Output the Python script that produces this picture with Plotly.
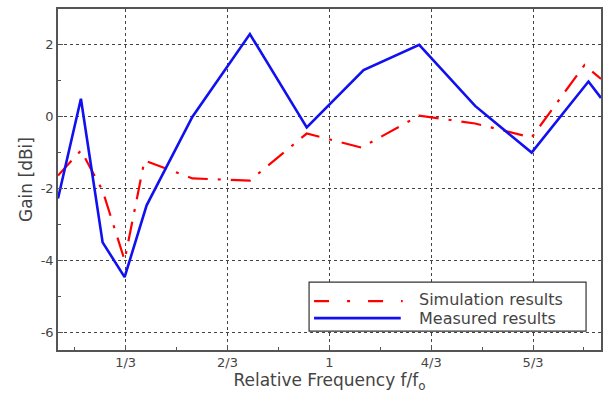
import plotly.graph_objects as go

# ---- data ----
meas_x = [0.112, 0.187, 0.258, 0.330, 0.402, 0.552, 0.740, 0.926, 1.112, 1.294, 1.477, 1.662, 1.848, 1.889]
meas_y = [-2.28, 0.50, -3.50, -4.47, -2.47, 0.00, 2.30, -0.30, 1.30, 2.00, 0.30, -1.00, 0.98, 0.52]

sim_x = [0.112, 0.187, 0.258, 0.330, 0.395, 0.552, 0.740, 0.926, 1.105, 1.294, 1.477, 1.662, 1.835, 1.889]
sim_y = [-1.64, -0.94, -2.06, -4.00, -1.22, -1.72, -1.78, -0.47, -0.86, 0.03, -0.19, -0.58, 1.44, 1.05]

series_names = ["Simulation results", "Measured results"]

x_tickvals = [1/3, 2/3, 1, 4/3, 5/3]
x_ticktext = ["1/3", "2/3", "1", "4/3", "5/3"]
y_tickvals = [2, 0, -2, -4, -6]
y_ticktext = ["2", "0", "-2", "-4", "-6"]

RED = "#ff0000"
BLUE = "#1010f0"
TXT = "#444444"
FONT = "DejaVu Sans, Liberation Sans, Arial, sans-serif"

fig = go.Figure()
fig.add_trace(go.Scatter(x=sim_x, y=sim_y, mode="lines", name=series_names[0],
                         line=dict(color=RED, width=2.2, dash="20px,10px,3px,10px"),
                         showlegend=False))
fig.add_trace(go.Scatter(x=meas_x, y=meas_y, mode="lines", name=series_names[1],
                         line=dict(color=BLUE, width=2.6), showlegend=False))

axis_common = dict(
    showline=True, linecolor="#555555", linewidth=1.5, mirror=True,
    showgrid=True, gridcolor="#444444", griddash="dot", gridwidth=1,
    ticks="inside", ticklen=5, tickcolor="#555555", tickwidth=1.2,
    zeroline=False,
    tickfont=dict(family=FONT, size=13, color=TXT),
)

fig.update_xaxes(range=[0.112, 1.889], tickvals=x_tickvals, ticktext=x_ticktext,
                 minor=dict(tickvals=[1/6, 1/2, 5/6, 7/6, 3/2, 11/6], ticks="inside",
                            ticklen=3, tickcolor="#555555", showgrid=False),
                 title=dict(text="Relative Frequency f/f<sub>o</sub>",
                            font=dict(family=FONT, size=17, color=TXT), standoff=1),
                 **axis_common)
fig.update_yaxes(range=[-6.5, 3.0], tickvals=y_tickvals, ticktext=y_ticktext,
                 minor=dict(tickvals=[1, -1, -3, -5], ticks="inside",
                            ticklen=3, tickcolor="#555555", showgrid=False),
                 title=dict(text="Gain [dBi]",
                            font=dict(family=FONT, size=17, color=TXT), standoff=4),
                 **axis_common)

# manual legend (paper coords)
L, R, T, B = 58, 603, 8, 350
def px(x):
    return (x - L) / (R - L)
def py(y):
    return (B - y) / (B - T)

fig.add_shape(type="rect", xref="paper", yref="paper",
              x0=px(310), x1=px(588), y0=py(331), y1=py(282),
              line=dict(color="#333333", width=1.2), fillcolor="white", layer="above")
fig.add_shape(type="line", xref="paper", yref="paper",
              x0=px(315), x1=px(404), y0=py(301), y1=py(301),
              line=dict(color=RED, width=2.2, dash="15px,18px,3px,18px"), layer="above")
fig.add_shape(type="line", xref="paper", yref="paper",
              x0=px(315), x1=px(402), y0=py(318), y1=py(318),
              line=dict(color=BLUE, width=2.6), layer="above")
for name, yy in zip(series_names, [299, 318]):
    fig.add_annotation(xref="paper", yref="paper", x=px(418), y=py(yy),
                       text=name, showarrow=False, xanchor="left", yanchor="middle",
                       font=dict(family=FONT, size=16, color=TXT))

fig.update_layout(
    width=610, height=395,
    margin=dict(l=58, r=7, t=8, b=45),
    plot_bgcolor="white", paper_bgcolor="white",
    showlegend=False,
)

fig.write_html("out.html")
